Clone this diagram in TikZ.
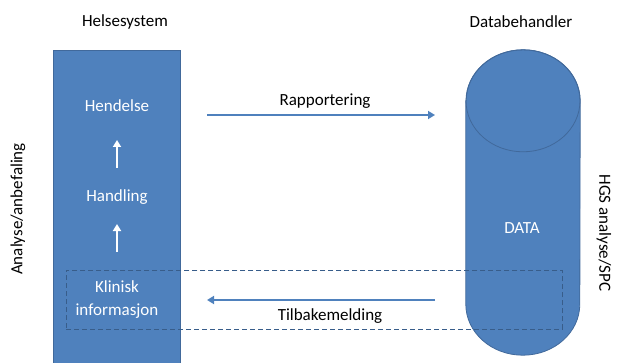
\documentclass[tikz,border=0pt]{standalone}
\usepackage{fontspec}
\setmainfont{Carlito}
\usetikzlibrary{positioning,calc,arrows.meta}
\definecolor{hgsblue}{HTML}{4F81BD}
\definecolor{hgsedge}{HTML}{41699B}
\definecolor{hgsdash}{HTML}{385D8A}
\tikzset{
  block/.style    = {draw=hgsedge, fill=hgsblue, line width=0.8pt, inner sep=0pt},
  dashbox/.style  = {draw=hgsdash, dash pattern=on 5pt off 3pt, line width=0.8pt, inner sep=0pt},
  headtxt/.style  = {text=black, font=\fontsize{17}{20}\selectfont},
  intxt/.style    = {text=white, font=\fontsize{17}{23}\selectfont, align=center},
  flow/.style     = {draw=hgsblue, line width=2pt, -{Triangle[length=7pt,width=8pt]}},
  upflow/.style   = {draw=white, line width=2.5pt, -{Triangle[length=7pt,width=8pt]}}
}

\begin{document}
\begin{tikzpicture}[x=1pt,y=-1pt]
    \useasboundingbox (0,0) rectangle (617,363);

    % left column
    \node[block, minimum width=127pt, minimum height=330pt, anchor=north west] (helse) at (53,50) {};

    % data store: a cylinder with a round top cap
    \node[inner sep=0pt, minimum width=114pt, minimum height=305pt] (data) at (523,202.5) {};
    \filldraw[block] ($(data.north west)+(0,51)$) -- ($(data.south west)+(0,-51)$)
      arc[start angle=180, end angle=0, x radius=57, y radius=51]
      -- ($(data.north east)+(0,51)$)
      arc[start angle=0, end angle=-180, x radius=57, y radius=51] -- cycle;
    \draw[draw=hgsedge, line width=0.8pt] ($(data.north)+(0,51)$) ellipse[x radius=57, y radius=51];

    % headings
    \node[headtxt] (helsetitle) at (125,22) {Helsesystem};
    \node[headtxt] (datatitle)  at (521,22) {Databehandler};
    \node[headtxt, rotate=90]  (analyse) at (18,209)  {Analyse/anbefaling};
    \node[headtxt, rotate=-90] (hgs)     at (604,233) {HGS analyse/SPC};

    % steps inside the health system
    \node[intxt] (hendelse) at (117,106) {Hendelse};
    \node[intxt] (handling) at (117,197) {Handling};
    \node[intxt] (klinisk)  at (117,300) {Klinisk\\informasjon};
    \node[intxt] (datatxt)  at (522,228) {DATA};

    \draw[upflow, shorten <=29pt, shorten >=34pt] (handling.center) -- (hendelse.center);
    \draw[upflow, shorten <=48pt, shorten >=27pt] (klinisk.center) -- (handling.center);

    % feedback loop
    \node[dashbox, minimum width=496pt, minimum height=59pt, anchor=north west] (loop) at (66,270) {};

    % reporting and feedback
    \coordinate (repA) at (207,115);
    \coordinate (repB) at (435,115);
    \coordinate (fbA)  at (435,300);
    \coordinate (fbB)  at (207,300);
    \draw[flow] (repA) -- (repB);
    \draw[flow] (fbA) -- (fbB);
    \node[headtxt] (rapport) at (325,101) {Rapportering};
    \node[headtxt] (tilbake) at (330,316) {Tilbakemelding};
\end{tikzpicture}
\end{document}
